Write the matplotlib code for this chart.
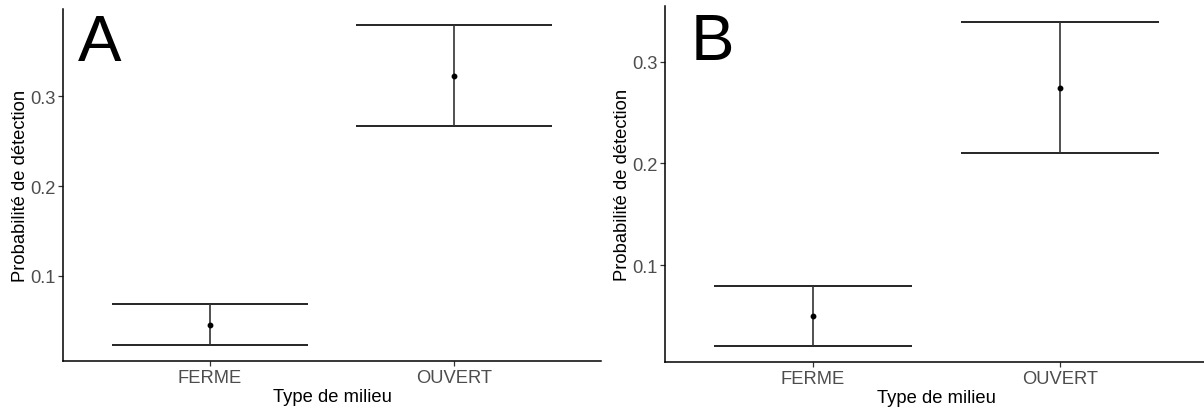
import matplotlib
matplotlib.use("Agg")
import matplotlib.pyplot as plt
import numpy as np

plt.rcParams['font.family'] = ['Liberation Sans', 'DejaVu Sans']

categories = ['FERME', 'OUVERT']

A_est = [0.0456, 0.322]
A_lo = [0.0233, 0.2667]
A_hi = [0.0689, 0.379]

B_est = [0.050, 0.2745]
B_lo = [0.0206, 0.210]
B_hi = [0.0794, 0.339]

yticks = [0.1, 0.2, 0.3]
ytick_labels = ['0.1', '0.2', '0.3']

W, H = 1204, 410
fig = plt.figure(figsize=(W / 100, H / 100), dpi=100)


def px_axes(left, right, top, bottom):
    return fig.add_axes([left / W, (H - bottom) / H, (right - left) / W, (bottom - top) / H])


def draw_panel(ax, est, lo, hi, letter, letter_xy):
    x = np.arange(len(categories))
    for xi, e, l, h in zip(x, est, lo, hi):
        ax.hlines([l, h], xi - 0.4, xi + 0.4, color='black', lw=1.2)
        ax.vlines(xi, l, h, color='#333333', lw=1.2)
    ax.plot(x, est, 'o', color='black', ms=3.2, zorder=3)
    lo_all, hi_all = min(lo), max(hi)
    rng = hi_all - lo_all
    ax.set_ylim(lo_all - 0.05 * rng, hi_all + 0.05 * rng)
    ax.set_xlim(-0.6, len(categories) - 1 + 0.6)
    ax.set_xticks(x)
    ax.set_xticklabels(categories)
    ax.set_yticks(yticks)
    ax.set_yticklabels(ytick_labels)
    for s in ['top', 'right']:
        ax.spines[s].set_visible(False)
    for s in ['left', 'bottom']:
        ax.spines[s].set_linewidth(1.1)
        ax.spines[s].set_color('black')
    ax.tick_params(axis='both', length=3.5, width=0.9, color='#333333',
                   labelcolor='#4D4D4D', labelsize=13.2, pad=2)
    ax.set_xlabel('Type de milieu', fontsize=13.2, color='black', labelpad=2)
    ax.set_ylabel('Probabilité de détection', fontsize=13.2, color='black', labelpad=1)
    fig.text(letter_xy[0] / W, (H - letter_xy[1]) / H, letter, fontsize=47,
             color='black', ha='left', va='baseline')


axA = px_axes(63, 601, 10, 362)
draw_panel(axA, A_est, A_lo, A_hi, 'A', (78, 61))

axB = px_axes(665, 1208, 7, 363)
draw_panel(axB, B_est, B_lo, B_hi, 'B', (691, 60))

fig.savefig('out.png', dpi=100)
